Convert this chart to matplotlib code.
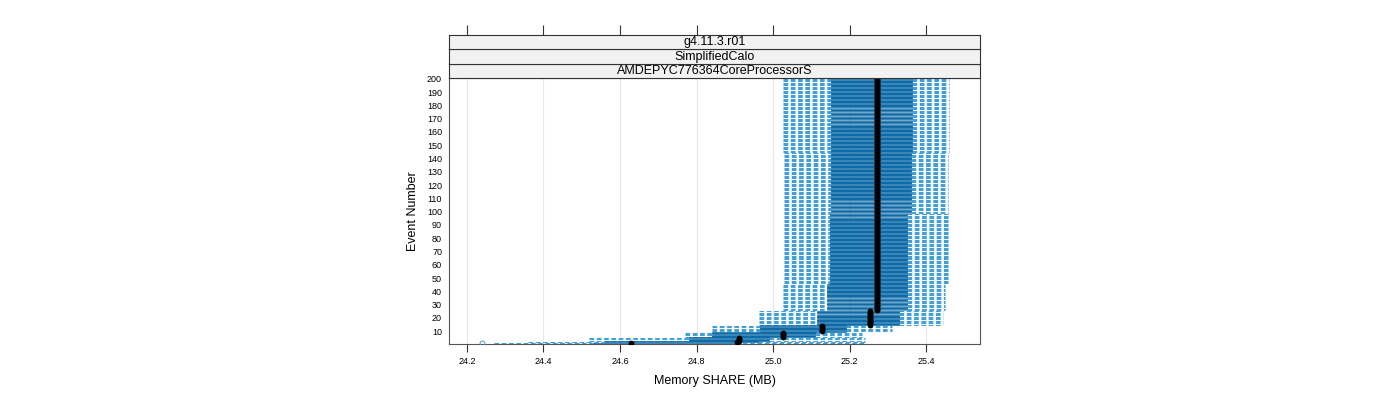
import numpy as np
import matplotlib
matplotlib.use("Agg")
import matplotlib.pyplot as plt
from matplotlib.patches import Rectangle

plt.rcParams['font.family'] = ['Liberation Sans', 'DejaVu Sans']

# event blocks (first, last event) and the box stats for each block
block_first = [1, 2, 3, 6, 10, 15, 26, 46, 99, 145]
block_last = [1, 2, 5, 9, 14, 25, 45, 98, 144, 200]
whisk_lo = [24.27, 24.36, 24.52, 24.77, 24.84, 24.964, 25.025, 25.029, 25.029, 25.027]
q1 = [24.53, 24.56, 24.78, 24.84, 24.966, 25.114, 25.140, 25.150, 25.152, 25.152]
med = [24.63, 24.905, 24.91, 25.026, 25.128, 25.254, 25.271, 25.272, 25.272, 25.272]
q3 = [24.90, 24.96, 24.99, 25.11, 25.19, 25.33, 25.35, 25.35, 25.36, 25.362]
whisk_hi = [25.24, 25.24, 25.24, 25.233, 25.31, 25.445, 25.45, 25.457, 25.457, 25.46]
outlier_event = [1]
outlier_val = [24.24]

xticks = [24.2, 24.4, 24.6, 24.8, 25.0, 25.2, 25.4]
yticks = list(range(10, 201, 10))
strips = ["g4.11.3.r01", "SimplifiedCalo", "AMDEPYC776364CoreProcessorS"]

# expand blocks to one row per event
counts = np.array(block_last) - np.array(block_first) + 1
events = np.concatenate([np.arange(a, b + 1) for a, b in zip(block_first, block_last)])
wl = np.repeat(whisk_lo, counts)
b1 = np.repeat(q1, counts)
md = np.repeat(med, counts)
b3 = np.repeat(q3, counts)
wh = np.repeat(whisk_hi, counts)

box_col = '#0A74B6'
edge_col = '#005F9C'
whisk_col = '#449FD5'

fig = plt.figure(figsize=(14, 4), dpi=100)
L, R = 449 / 1400, 980 / 1400
ax = fig.add_axes([L, 56 / 400, R - L, 266 / 400])

for xt in xticks:
    ax.axvline(xt, color='#E8E8E8', lw=0.8, zorder=0)

ax.hlines(events, wl, b1, colors=whisk_col, lw=0.75, linestyles=(0, (4.5, 2.5)), zorder=1)
ax.hlines(events, b3, wh, colors=whisk_col, lw=0.75, linestyles=(0, (4.5, 2.5)), zorder=1)
for e, a, b in zip(events, b1, b3):
    ax.add_patch(Rectangle((a, e - 0.35), b - a, 0.7, facecolor=box_col,
                           edgecolor=edge_col, lw=0.4, zorder=2))
ax.plot(md, events, 'o', color='black', ms=4.2, mew=0, zorder=3)
ax.plot(outlier_val, outlier_event, 'o', mfc='none', mec=whisk_col, ms=3.5, mew=0.7, zorder=3)

ax.set_xlim(24.153, 25.541)
ax.set_ylim(0.4, 200.6)
ax.set_xticks(xticks)
ax.set_xticklabels([f"{v:.1f}" for v in xticks], fontsize=6.5)
ax.set_yticks(yticks)
ax.set_yticklabels([str(v) for v in yticks], fontsize=6.5)
ax.tick_params(axis='x', length=6, width=0.8, color='#333333', pad=3)
ax.tick_params(axis='y', length=0, pad=5)
for s in ax.spines.values():
    s.set_color('#555555')
    s.set_linewidth(0.8)
ax.set_xlabel("Memory SHARE (MB)", fontsize=9, labelpad=7)
ax.set_ylabel("Event Number", fontsize=9, labelpad=6)

# strips on top of the panel
strip_h = 14.5 / 400
for i, txt in enumerate(strips[::-1]):
    sax = fig.add_axes([L, (400 - 78) / 400 + i * strip_h, R - L, strip_h])
    sax.set_facecolor('#F2F2F2')
    sax.set_xlim(ax.get_xlim())
    sax.set_yticks([])
    sax.text(0.5, 0.45, txt, transform=sax.transAxes, ha='center', va='center', fontsize=9)
    for s in sax.spines.values():
        s.set_color('#333333')
        s.set_linewidth(0.8)
    if i == len(strips) - 1:
        sax.set_xticks(xticks)
        sax.tick_params(axis='x', bottom=False, labelbottom=False, top=True,
                        labeltop=False, length=7, width=0.8, color='#333333')
    else:
        sax.set_xticks([])

fig.savefig("out.png", dpi=100)
